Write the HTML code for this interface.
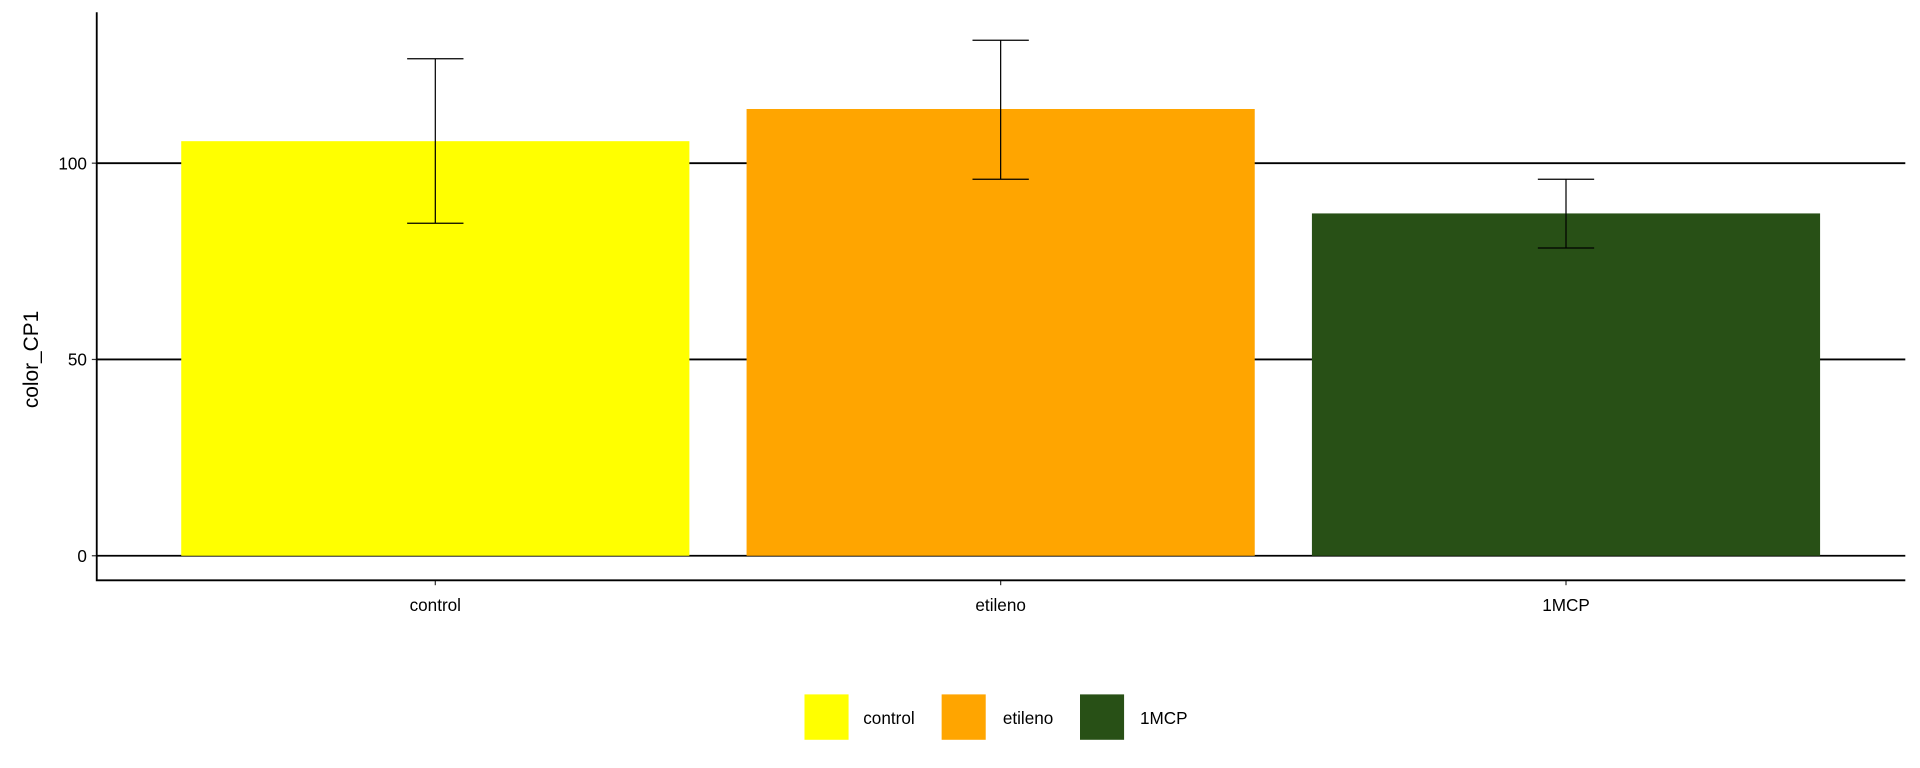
<!DOCTYPE html>
<html><head><meta charset="utf-8"><style>html,body{margin:0;padding:0;background:#fff}svg{display:block}</style></head>
<body>
<svg id="chart" width="1920" height="768" viewBox="0 0 1568 626" preserveAspectRatio="none" xmlns="http://www.w3.org/2000/svg" font-family="Liberation Sans, sans-serif"></svg>
<script>
const categories = ["control","etileno","1MCP"];
const means = [105.6, 113.8, 87.2];
const upper = [126.6, 131.3, 95.9];
const lower = [84.7, 95.9, 78.4];
const colors = ["#FFFF00","#FFA500","#285016"];
const yTicks = [0, 50, 100];

const svg = document.getElementById('chart');
const NS = 'http://www.w3.org/2000/svg';
const y = v => 453 - v * 3.2;
const bandStart = 79, bandW = 1477 / 3;
const xc = i => bandStart + 23 + bandW * i + bandW / 2 - 23 + 0;
function mk(tag, attrs, parent) { const e = document.createElementNS(NS, tag); for (const k in attrs) e.setAttribute(k, attrs[k]); (parent || svg).appendChild(e); return e; }

// gridlines
yTicks.forEach(t => {
  const g = mk('line', {x1: 79, x2: 1556, y1: y(t), y2: y(t), stroke: '#000', 'stroke-width': 1.5});
  
  
  const tk = mk('line', {x1: 75, x2: 79, y1: y(t), y2: y(t), stroke: '#333', 'stroke-width': 1});
  
  
  const l = mk('text', {x: 71, y: y(t) + 5, 'text-anchor': 'end', 'font-size': 14, fill: '#000'});
  l.textContent = t;
  
  
});

categories.forEach((c, i) => {
  const cx = 79 + 69 + 207.5 + i * 461.7;
  const b = mk('rect', {x: cx - 207.5, y: y(means[i]), width: 415, height: y(0) - y(means[i]), fill: colors[i]});
  
  
  const eg = mk('g', {stroke: '#000', 'stroke-width': 1});
  
  
  mk('line', {x1: cx, x2: cx, y1: y(upper[i]), y2: y(lower[i])}, eg);
  mk('line', {x1: cx - 23, x2: cx + 23, y1: y(upper[i]), y2: y(upper[i])}, eg);
  mk('line', {x1: cx - 23, x2: cx + 23, y1: y(lower[i]), y2: y(lower[i])}, eg);
  const tk = mk('line', {x1: cx, x2: cx, y1: 473, y2: 477, stroke: '#333'});
  
  
  const l = mk('text', {x: cx, y: 498, 'text-anchor': 'middle', 'font-size': 14, fill: '#000'});
  l.textContent = c;
  
  
});

const ax = mk('path', {d: 'M79 10 V473 H1556', fill: 'none', stroke: '#000', 'stroke-width': 1.5});



const yl = mk('text', {x: 0, y: 0, transform: 'translate(31,293) rotate(-90)', 'text-anchor': 'middle', 'font-size': 17, fill: '#000'});
yl.textContent = 'color_CP1';



const legX = [657, 769, 882];
const legTX = [705, 819, 931];
categories.forEach((c, i) => {
  const g = mk('g', {});
  
  
  mk('rect', {x: legX[i], y: 566, width: 36, height: 37, fill: colors[i]}, g);
  const t = mk('text', {x: legTX[i], y: 590, 'font-size': 14, fill: '#000'}, g);
  t.textContent = c;
});
</script>
</body></html>
